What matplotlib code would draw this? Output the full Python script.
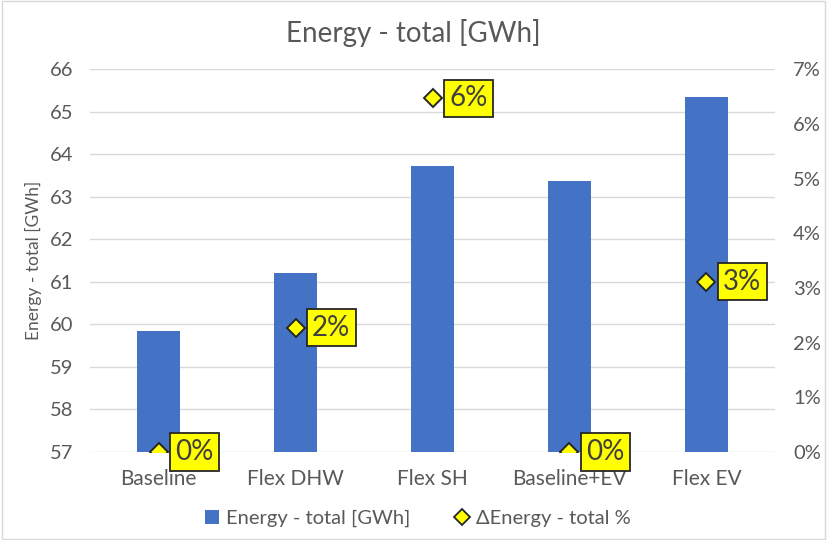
import matplotlib.pyplot as plt
from matplotlib.lines import Line2D
from matplotlib.patches import Patch, Rectangle
from matplotlib.ticker import FuncFormatter

plt.rcParams["font.family"] = ["Lato", "DejaVu Sans"]

# ---- data ----
scenarios = ["Baseline", "Flex DHW", "Flex SH", "Baseline+EV", "Flex EV"]
energy_gwh = [59.85, 61.21, 63.73, 63.37, 65.35]
delta_pct = [0.0, 2.27, 6.47, 0.0, 3.11]

BAR_COLOR = "#4472C4"
GRID = "#D9D9D9"
TXT = "#595959"

fig = plt.figure(figsize=(8.27, 5.40), dpi=100)
ax = fig.add_axes([0.109, 0.163, 0.828, 0.709])
ax2 = ax.twinx()

x = range(len(scenarios))
ax.bar(x, energy_gwh, width=0.31, color=BAR_COLOR, zorder=2)
ax.set_ylim(57, 66)
ax.set_yticks(range(57, 67))
ax.set_xlim(-0.5, len(scenarios) - 0.5)
ax.set_xticks(list(x))
ax.set_xticklabels(scenarios)
ax.grid(axis="y", color=GRID, linewidth=1.0, zorder=0)
ax.set_axisbelow(True)
ax.set_ylabel("Energy - total [GWh]", fontsize=12.5, color=TXT, labelpad=6)

ax2.set_ylim(0, 7)
ax2.set_yticks(range(0, 8))
ax2.yaxis.set_major_formatter(FuncFormatter(lambda v, _: f"{v:.0f}%"))
ax2.plot(list(x), delta_pct, linestyle="none", marker="D", markersize=9.5,
         markerfacecolor="#FFFF00", markeredgecolor="#262626", markeredgewidth=1.4, zorder=4)

# yellow value tags next to each diamond
for xi, v in zip(x, delta_pct):
    ax2.annotate(f"{v:.0f}%", (xi, v), xytext=(12, 0), textcoords="offset points",
                 ha="left", va="center", fontsize=20, color="#404040",
                 bbox=dict(boxstyle="square,pad=0.2", fc="#FFFF00", ec="#262626", lw=1.3),
                 zorder=5)

for a in (ax, ax2):
    for s in a.spines.values():
        s.set_visible(False)
    a.tick_params(length=0, labelsize=14.5, labelcolor=TXT)
ax.tick_params(axis="x", pad=12, labelsize=15)
ax.tick_params(axis="y", pad=12)
ax2.tick_params(axis="y", pad=13)

fig.suptitle("Energy - total [GWh]", y=0.965, fontsize=20, color=TXT)

handles = [
    Patch(facecolor=BAR_COLOR, label="Energy - total [GWh]"),
    Line2D([], [], linestyle="none", marker="D", markersize=8, markerfacecolor="#FFFF00",
           markeredgecolor="#262626", markeredgewidth=1.3, label="ΔEnergy - total %"),
]
leg = fig.legend(handles=handles, loc="center", bbox_to_anchor=(0.505, 0.04), ncol=2,
                 frameon=False, fontsize=14.5, handlelength=0.7, handleheight=0.7,
                 handletextpad=0.35, columnspacing=2.2, labelcolor=TXT)

fig.patches.append(Rectangle((0.002, 0.002), 0.996, 0.996, transform=fig.transFigure,
                             fill=False, edgecolor="#D9D9D9", linewidth=1.0))

fig.savefig("out.png")
